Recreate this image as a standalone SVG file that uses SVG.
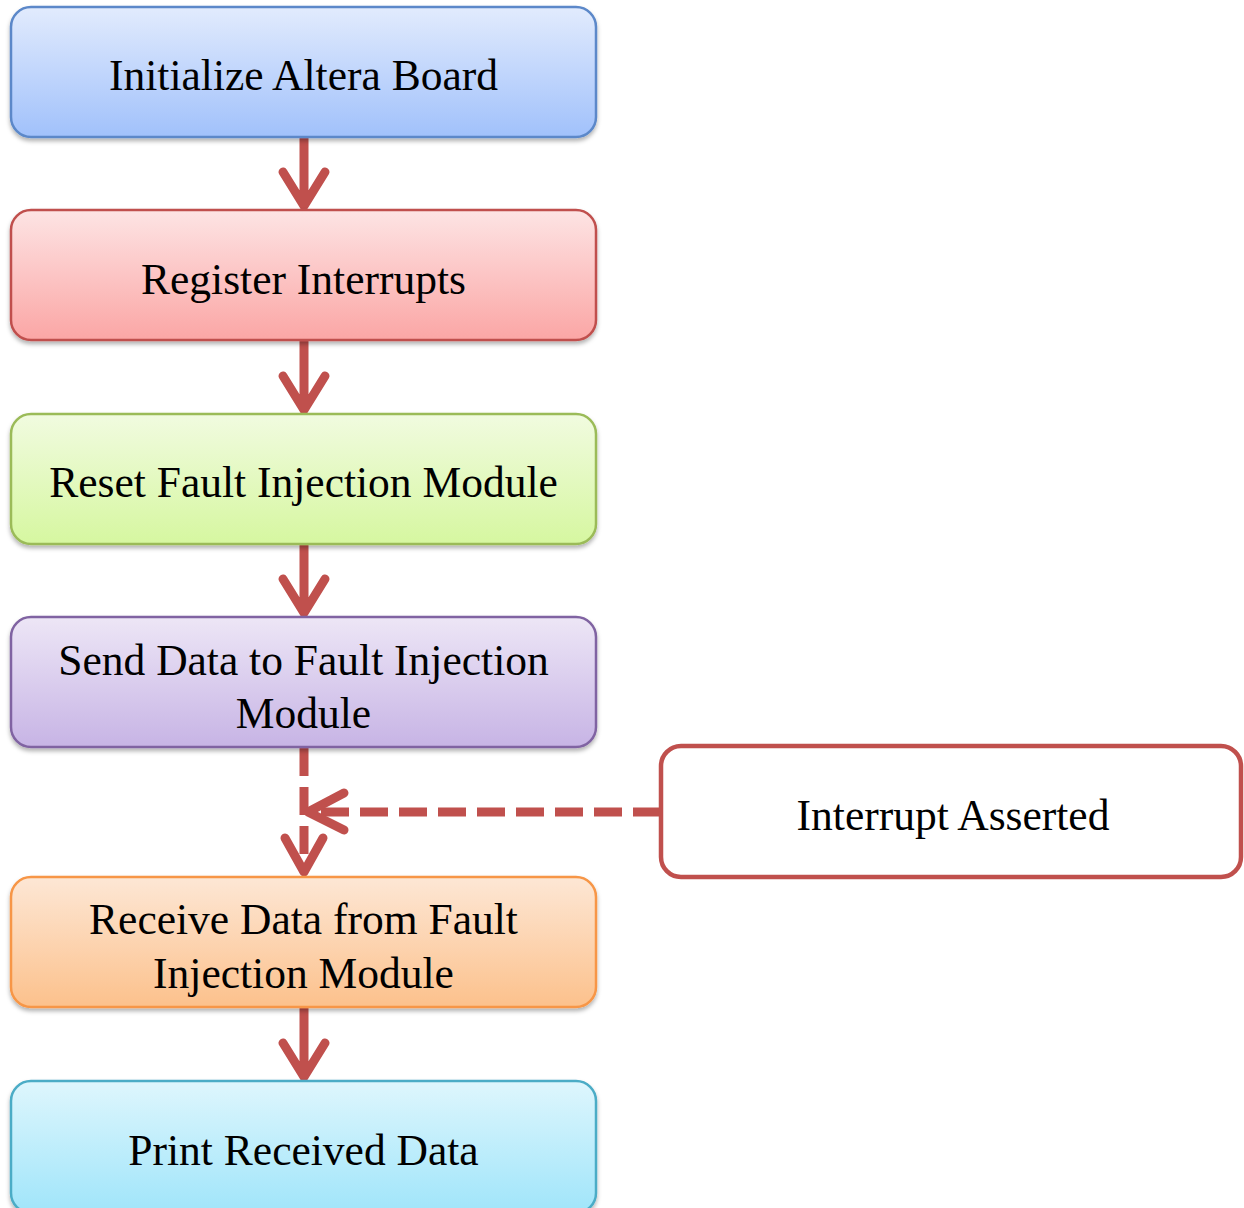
<svg xmlns="http://www.w3.org/2000/svg" width="1244" height="1208" viewBox="0 0 1244 1208">
  <style>
    .box { stroke-width: 2.5; filter: url(#shadow); }
    .label { font-family: "Liberation Serif", "Times New Roman", serif; font-size: 43.5px; fill: #000; text-anchor: middle; }
    .flow { fill: none; stroke: #C0504D; stroke-width: 9; stroke-linecap: round; stroke-linejoin: round; }
    .dash { fill: none; stroke: #C0504D; stroke-width: 9; stroke-dasharray: 28 11; }
  </style>
  <defs>
    <filter id="shadow" x="-5%" y="-10%" width="110%" height="130%">
      <feDropShadow dx="0" dy="3" stdDeviation="2" flood-color="#000" flood-opacity="0.3"/>
    </filter>
    <linearGradient id="gBlue" x1="0" y1="0" x2="0" y2="1">
      <stop offset="0" stop-color="#E2EBFD"/>
      <stop offset="1" stop-color="#A1C1FB"/>
    </linearGradient>
    <linearGradient id="gRed" x1="0" y1="0" x2="0" y2="1">
      <stop offset="0" stop-color="#FDE4E4"/>
      <stop offset="1" stop-color="#FBA6A5"/>
    </linearGradient>
    <linearGradient id="gGreen" x1="0" y1="0" x2="0" y2="1">
      <stop offset="0" stop-color="#F1FBE0"/>
      <stop offset="1" stop-color="#D6F7A0"/>
    </linearGradient>
    <linearGradient id="gPurple" x1="0" y1="0" x2="0" y2="1">
      <stop offset="0" stop-color="#EDE6F6"/>
      <stop offset="1" stop-color="#C7B4E5"/>
    </linearGradient>
    <linearGradient id="gOrange" x1="0" y1="0" x2="0" y2="1">
      <stop offset="0" stop-color="#FDE7D5"/>
      <stop offset="1" stop-color="#FCC18C"/>
    </linearGradient>
    <linearGradient id="gCyan" x1="0" y1="0" x2="0" y2="1">
      <stop offset="0" stop-color="#DEF6FD"/>
      <stop offset="1" stop-color="#A0E5FA"/>
    </linearGradient>
  </defs>

  <!-- connectors -->
  <g id="connectors">
    <path class="flow" d="M304 138 V206 M283 172 L304 206 L325 172"/>
    <path class="flow" d="M304 341 V410 M283 376 L304 410 L325 376"/>
    <path class="flow" d="M304 545 V613 M283 579 L304 613 L325 579"/>
    <path class="flow" d="M304 1008 V1077 M283 1043 L304 1077 L325 1043"/>
    <!-- interrupt path: dashed feed into the receive step -->
    <path class="dash" d="M304 748 V868"/>
    <path class="dash" d="M661 812 H312"/>
    <path class="flow" d="M344 793 L308 812 L344 830"/>
    <path class="flow" d="M285 838 L304 872 L323 838"/>
  </g>

  <!-- nodes -->
  <g id="init">
    <rect class="box" x="11" y="7" width="585" height="130" rx="20" fill="url(#gBlue)" stroke="#5B88C9"/>
    <text class="label" x="303.5" y="90">Initialize Altera Board</text>
  </g>
  <g id="register">
    <rect class="box" x="11" y="210" width="585" height="130" rx="20" fill="url(#gRed)" stroke="#C0504D"/>
    <text class="label" x="303.5" y="294">Register Interrupts</text>
  </g>
  <g id="reset">
    <rect class="box" x="11" y="414" width="585" height="130" rx="20" fill="url(#gGreen)" stroke="#9BBB59"/>
    <text class="label" x="303.5" y="497">Reset Fault Injection Module</text>
  </g>
  <g id="send">
    <rect class="box" x="11" y="617" width="585" height="130" rx="20" fill="url(#gPurple)" stroke="#8064A2"/>
    <text class="label" x="303.5" y="675">Send Data to Fault Injection</text>
    <text class="label" x="303.5" y="728">Module</text>
  </g>
  <g id="receive">
    <rect class="box" x="11" y="877" width="585" height="130" rx="20" fill="url(#gOrange)" stroke="#F79646"/>
    <text class="label" x="303.5" y="934">Receive Data from Fault</text>
    <text class="label" x="303.5" y="988">Injection Module</text>
  </g>
  <g id="print">
    <rect class="box" x="11" y="1081" width="585" height="132" rx="20" fill="url(#gCyan)" stroke="#4BACC6"/>
    <text class="label" x="303.5" y="1165">Print Received Data</text>
  </g>
  <g id="interrupt">
    <rect x="661" y="746" width="580" height="131" rx="20" fill="#FFFFFF" stroke="#C0504D" stroke-width="4.5"/>
    <text class="label" x="953" y="830">Interrupt Asserted</text>
  </g>
</svg>
